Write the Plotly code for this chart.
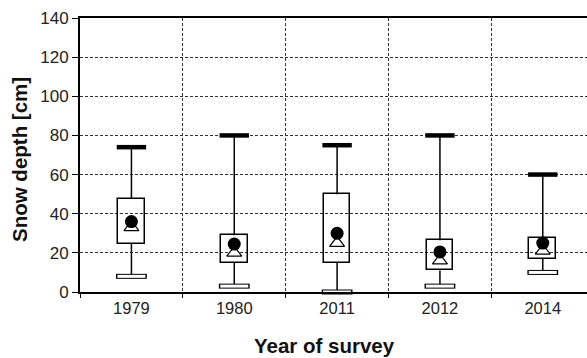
import plotly.graph_objects as go

years = ["1979", "1980", "2011", "2012", "2014"]
max_vals = [74, 80, 75, 80, 60]
q3_vals = [47.5, 29, 50, 26.5, 27.5]
q1_vals = [24.5, 15, 15, 11, 17]
min_vals = [8, 3, 0, 3, 10]
mean_vals = [36, 24.5, 30, 20.5, 25]
median_vals = [33, 20, 25, 16, 21]

FONT = "Liberation Sans, Arial, sans-serif"

fig = go.Figure()

# box (transparent fill)
fig.add_trace(go.Bar(
    x=years, y=[a - b for a, b in zip(q3_vals, q1_vals)], base=q1_vals,
    width=0.26, marker=dict(color="rgba(0,0,0,0)", line=dict(color="black", width=1.5)),
    hoverinfo="skip", showlegend=False))

# whiskers
wx, wy = [], []
for yr, mx, q3, q1, mn in zip(years, max_vals, q3_vals, q1_vals, min_vals):
    wx += [yr, yr, None, yr, yr, None]
    wy += [mx, q3, None, q1, mn, None]
fig.add_trace(go.Scatter(x=wx, y=wy, mode="lines", line=dict(color="black", width=1.5),
                         hoverinfo="skip", showlegend=False, cliponaxis=False))

# max bars
fig.add_trace(go.Scatter(x=years, y=max_vals, mode="markers",
                         marker=dict(symbol="line-ew", size=21, line=dict(color="black", width=4.5)),
                         showlegend=False, cliponaxis=False))
# min bars (white with black outline)
fig.add_trace(go.Scatter(x=years, y=min_vals, mode="markers",
                         marker=dict(symbol="line-ew", size=22, line=dict(color="black", width=5)),
                         showlegend=False, cliponaxis=False))
fig.add_trace(go.Scatter(x=years, y=min_vals, mode="markers",
                         marker=dict(symbol="line-ew", size=20, line=dict(color="white", width=3)),
                         showlegend=False, cliponaxis=False))
# median triangles
fig.add_trace(go.Scatter(x=years, y=median_vals, mode="markers",
                         marker=dict(symbol="triangle-up", size=13, color="white",
                                     line=dict(color="black", width=1.2)),
                         showlegend=False, cliponaxis=False))
# mean circles
fig.add_trace(go.Scatter(x=years, y=mean_vals, mode="markers",
                         marker=dict(symbol="circle", size=13, color="black"),
                         showlegend=False, cliponaxis=False))

fig.update_layout(
    width=587, height=358,
    margin=dict(l=80, r=0, t=18, b=66, autoexpand=False),
    paper_bgcolor="white", plot_bgcolor="white",
    font=dict(family=FONT, color="black", size=15),
    bargap=0,
    xaxis=dict(
        type="category", range=[-0.5, 4.43], tickson="boundaries",
        showgrid=True, gridcolor="#333", griddash="3px,2px", gridwidth=1,
        showline=True, linecolor="black", linewidth=2, mirror=True,
        ticks="outside", ticklen=4, tickcolor="black", tickwidth=1,
        tickfont=dict(size=16.5, color="#222"),
    ),
    yaxis=dict(
        range=[0, 140], dtick=20, tick0=0,
        showgrid=True, gridcolor="#333", griddash="3px,2px", gridwidth=1,
        showline=True, linecolor="black", linewidth=2, zeroline=False, mirror=False,
        ticks="outside", ticklen=6, tickcolor="black", tickwidth=1,
        tickfont=dict(size=17, color="#222"),
    ),
    annotations=[
        dict(text="<b>Year of survey</b>", xref="paper", yref="paper", x=(324 - 80) / 507,
             y=-53 / 274, xanchor="center", yanchor="middle", showarrow=False,
             font=dict(size=20.5, color="#111")),
        dict(text="<b>Snow depth [cm]</b>", xref="paper", yref="paper", x=(20 - 80) / 507,
             y=(292 - 160) / 274, xanchor="center", yanchor="middle", showarrow=False,
             textangle=-90, font=dict(size=20.5, color="#111")),
    ],
)

fig.write_html("out.html", config={"displayModeBar": False},
               post_script="document.body.style.margin='0';document.body.style.overflow='hidden';")
